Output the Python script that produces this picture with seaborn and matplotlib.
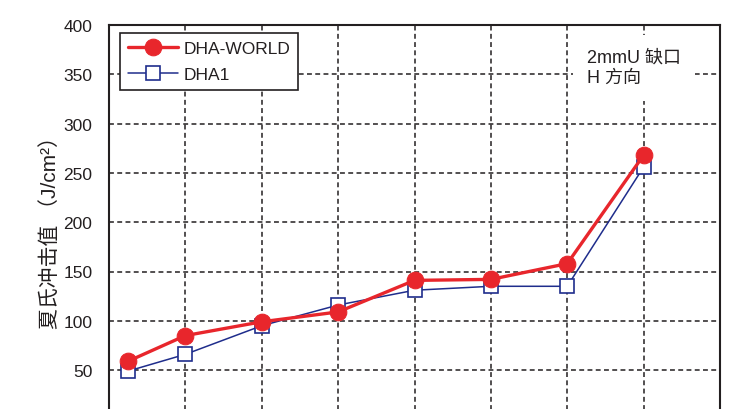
import matplotlib
matplotlib.use("Agg")
import matplotlib.pyplot as plt
import seaborn as sns
import pandas as pd

# ---- data ----
temps = [-75, -60, -40, -20, 0, 20, 40, 60]          # test positions (x axis, labels cropped off)
dha_world = [59, 85, 99, 109, 141, 142, 158, 268]
dha1 = [49, 66, 95, 116, 131, 135, 135, 256]
series_names = ["DHA-WORLD", "DHA1"]
y_ticks = [50, 100, 150, 200, 250, 300, 350, 400]
y_label = "夏氏冲击值 （J/cm²）"
note_text = "2mmU 缺口\nH 方向"

df = pd.DataFrame({
    "x": temps * 2,
    "y": dha_world + dha1,
    "series": [series_names[0]] * len(temps) + [series_names[1]] * len(temps),
})

sns.set_theme(style="white")
plt.rcParams["font.family"] = ["Liberation Sans", "Noto Sans CJK SC", "DejaVu Sans"]

W, H = 731, 410
fig = plt.figure(figsize=(W / 100, H / 100), dpi=100)
left_px, right_px, top_px, y0_px = 109, 720, 26, 420.4
ax = fig.add_axes([left_px / W, (H - y0_px) / H, (right_px - left_px) / W, (y0_px - top_px) / H])

red = "#e8262c"
blue = "#1f2d8c"
ink = "#231f20"

sns.lineplot(data=df[df.series == series_names[1]], x="x", y="y", ax=ax,
             color=blue, linewidth=1.1, marker="s", markersize=10,
             markerfacecolor="white", markeredgecolor=blue, markeredgewidth=1.2,
             label=series_names[1], zorder=3)
sns.lineplot(data=df[df.series == series_names[0]], x="x", y="y", ax=ax,
             color=red, linewidth=2.4, marker="o", markersize=12,
             markerfacecolor=red, markeredgecolor=red,
             label=series_names[0], zorder=4)

ax.set_xlim(-80, 80)
ax.set_ylim(0, 400)
ax.set_xticks(range(-80, 81, 20))
ax.set_yticks(y_ticks)
ax.set_xticklabels([])
ax.tick_params(axis="both", length=0, pad=12, labelsize=12.5, colors=ink)
ax.set_xlabel("")
ax.set_ylabel(y_label, fontsize=15, color=ink)
ax.yaxis.set_label_coords(-0.08, 0.49)

ax.grid(True, color=ink, linestyle=(0, (3.2, 2.2)), linewidth=1.1)
ax.set_axisbelow(True)
for s in ax.spines.values():
    s.set_color(ink)
    s.set_linewidth(1.5)
    s.set_zorder(5)

handles, labels = ax.get_legend_handles_labels()
order = [labels.index(series_names[0]), labels.index(series_names[1])]
leg = ax.legend([handles[i] for i in order], [labels[i] for i in order],
                loc="upper left", bbox_to_anchor=(0.018, 0.98), fontsize=12.5,
                frameon=True, fancybox=False, framealpha=1, edgecolor=ink,
                handlelength=2.9, handletextpad=0.3, labelspacing=0.65,
                borderpad=0.45, borderaxespad=0)
leg.get_frame().set_linewidth(1.2)
leg.set_zorder(6)
for t in leg.get_texts():
    t.set_color(ink)

fig.text(587 / W, 1 - 50 / H, note_text, fontsize=13, color=ink,
         va="top", ha="left", linespacing=1.25, zorder=6,
         bbox=dict(boxstyle="square,pad=0.8", facecolor="white", edgecolor="none"))

fig.savefig("out.png", dpi=100)
